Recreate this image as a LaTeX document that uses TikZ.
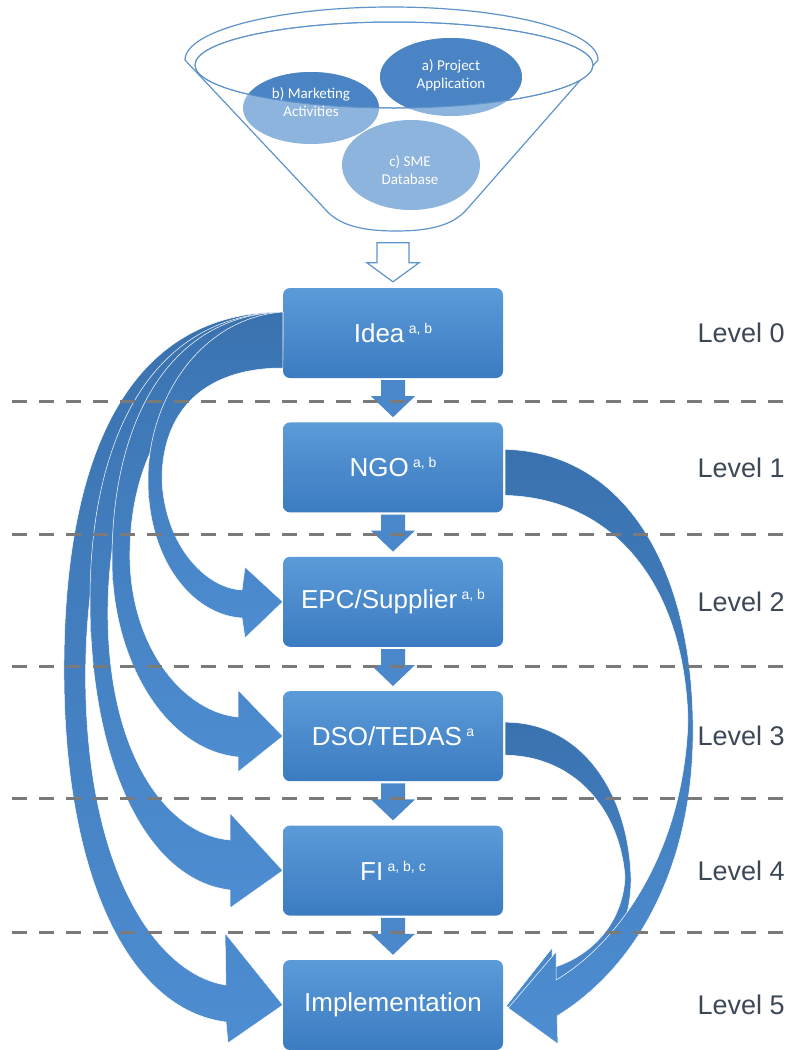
\documentclass[tikz,border=0pt]{standalone}
\usepackage{fontspec}
\setmainfont{Liberation Sans}
\newfontfamily\calibri{Carlito}
\usetikzlibrary{calc,positioning}

\definecolor{boxtop}{HTML}{5B9BD8}
\definecolor{boxbot}{HTML}{3B7BC1}
\definecolor{flowblue}{HTML}{4A88CB}
\definecolor{arrdark}{HTML}{3A72AF}
\definecolor{arrlight}{HTML}{4D8DD1}
\definecolor{rimblue}{HTML}{5F93CB}
\definecolor{fundark}{HTML}{4A84C4}
\definecolor{funlight}{HTML}{8DB4DD}
\definecolor{lvlgray}{HTML}{3D4857}
\definecolor{sepgray}{HTML}{7A7A7A}

\newcommand{\supmark}[1]{\,\raisebox{9pt}{\fontsize{14}{14}\selectfont #1}}

\begin{document}
\begin{tikzpicture}[x=1pt,y=-1pt,
  stage/.style={rounded corners=7pt, top color=boxtop, bottom color=boxbot,
    minimum width=220pt, minimum height=90pt, text=white,
    font=\fontsize{26}{30}\selectfont},
  itemtext/.style={text=white, align=center, font=\calibri\fontsize{15}{18}\selectfont},
  bigarrow/.style={top color=arrdark, bottom color=arrlight, draw=white, line width=0.5pt},
  sep/.style={sepgray, line width=3pt, dash pattern=on 15pt off 12pt},
  lvl/.style={anchor=west, text=lvlgray, font=\fontsize{27}{30}\selectfont},
  node distance=44pt]
  \useasboundingbox (0,0) rectangle (792,1050);

  % funnel
  \draw[rimblue, line width=1.2pt, fill=white] (185,60)
    .. controls (185,30.7) and (277.5,7) .. (391.5,7)
    .. controls (505.5,7) and (598,30.7) .. (598,60)
    -- (468,208) .. controls (457,221) and (440,231) .. (396,231)
    .. controls (352,231) and (335,221) .. (324,208) -- cycle;
  \draw[rimblue, line width=1pt, fill=white] (394,65) ellipse [x radius=199, y radius=43];
  \fill[funlight] (411,165) ellipse [x radius=69, y radius=45];
  \fill[funlight] (311,108) ellipse [x radius=68, y radius=36];
  \fill[funlight] (451,77) ellipse [x radius=71, y radius=39];
  \begin{scope}
    \clip (394,65) ellipse [x radius=199, y radius=43];
    \fill[fundark] (311,108) ellipse [x radius=68, y radius=36];
    \fill[fundark] (451,77) ellipse [x radius=71, y radius=39];
  \end{scope}
  \draw[rimblue, line width=1pt] (394,65) ellipse [x radius=199, y radius=43];
  \node[itemtext] (projapp) at (451,75) {a) Project\\Application};
  \node[itemtext] (market) at (311,102) {b) Marketing\\Activities};
  \node[itemtext] (smedb) at (410,170) {c) SME\\Database};

  % stages
  \node[stage] (idea) at (393,333) {Idea\supmark{a, b}};
  \node[stage, below=of idea] (ngo) {NGO\supmark{a, b}};
  \node[stage, below=of ngo] (epc) {EPC/Supplier\supmark{a, b}};
  \node[stage, below=of epc] (dso) {DSO/TEDAS\supmark{a}};
  \node[stage, below=of dso] (fi) {FI\supmark{a, b, c}};
  \node[stage, below=of fi] (impl) {Implementation};

  % hollow arrow out of the funnel
  \draw[rimblue, line width=1.2pt, fill=white]
    ($(idea.north)+(-16,-45)$) -- ($(idea.north)+(16,-45)$) -- ($(idea.north)+(16,-25)$)
    -- ($(idea.north)+(26,-25)$) -- ($(idea.north)+(0,-6)$) -- ($(idea.north)+(-26,-25)$)
    -- ($(idea.north)+(-16,-25)$) -- cycle;

  % curved arrows, left
  \path[bigarrow] ($(idea.west)+(0,-21)$) .. controls (120,312) and (62,470) .. (64,680)
    .. controls (66,880) and (130,1010) .. (226,1022) -- (228,1043) -- (impl.west)
    -- (225,933) -- (226,985) .. controls (160,975) and (92,880) .. (86,700)
    .. controls (80,500) and (150,340) .. ($(idea.west)+(0,7)$) -- cycle;
  \path[bigarrow] ($(idea.west)+(0,-21)$) .. controls (150,315) and (90,440) .. (90,600)
    .. controls (90,760) and (145,880) .. (230,890) -- (230,908) -- (fi.west)
    -- (230,813) -- (230,840) .. controls (170,835) and (110,760) .. (108,620)
    .. controls (106,470) and (170,350) .. ($(idea.west)+(0,17)$) -- cycle;
  \path[bigarrow] ($(idea.west)+(0,-21)$) .. controls (170,315) and (112,420) .. (112,560)
    .. controls (112,660) and (165,750) .. (238,757) -- (238,772) -- (dso.west)
    -- (238,690) -- (238,717) .. controls (185,712) and (132,650) .. (130,560)
    .. controls (128,440) and (195,360) .. ($(idea.west)+(0,27)$) -- cycle;
  \path[bigarrow] ($(idea.west)+(0,-21)$) .. controls (200,318) and (148,400) .. (148,480)
    .. controls (148,560) and (192,615) .. (242,618) -- (245,638) -- (epc.west)
    -- (245,567) -- (242,590) .. controls (205,588) and (165,545) .. (162,480)
    .. controls (162,410) and (205,368) .. ($(idea.west)+(0,35)$) -- cycle;

  % curved arrows, right
  \path[bigarrow] ($(dso.east)+(2,-14)$) .. controls (580,722) and (628,790) .. (631,877)
    .. controls (632,935) and (600,975) .. (552,992) -- (552,1036) -- ($(impl.east)+(3,1)$)
    -- (552,948) -- (552,968) .. controls (595,955) and (623,920) .. (625,877)
    .. controls (620,810) and (575,756) .. ($(dso.east)+(2,19)$) -- cycle;
  \path[bigarrow] ($(ngo.east)+(2,-18)$) .. controls (620,452) and (690,560) .. (693,720)
    .. controls (696,860) and (640,965) .. (557,1016) -- (558,1044) -- ($(impl.east)+(5,3)$)
    -- (556,952) -- (556,980) .. controls (620,942) and (684,850) .. (688,720)
    .. controls (684,580) and (610,498) .. ($(ngo.east)+(2,28)$) -- cycle;

  % steps down
  \foreach \a/\b in {idea/ngo, ngo/epc, epc/dso, dso/fi, fi/impl}
    \fill[flowblue] ($(\a.south)+(-12,2)$) -- ($(\a.south)+(12,2)$) -- ($(\b.north)+(12,-26)$)
      -- ($(\b.north)+(22,-26)$) -- ($(\b.north)+(0,-5)$) -- ($(\b.north)+(-22,-26)$)
      -- ($(\b.north)+(-12,-26)$) -- cycle;

  % level separators
  \foreach \y in {401,534,666,798,932}
    \draw[sep] (12,\y) -- (790,\y);

  % level labels
  \coordinate (lvlx) at (694,0);
  \foreach \i/\n in {0/idea, 1/ngo, 2/epc, 3/dso, 4/fi, 5/impl}
    \node[lvl] (lvl\i) at (\n -| lvlx) {Level \i};
\end{tikzpicture}
\end{document}
